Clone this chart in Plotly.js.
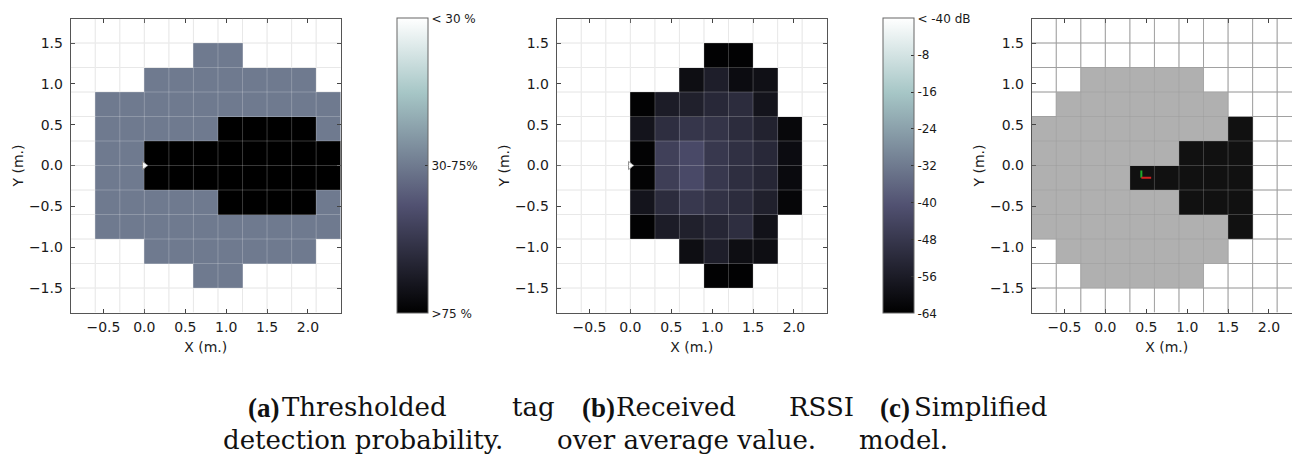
<!DOCTYPE html>
<html>
<head>
<meta charset="utf-8">
<script src="https://cdn.plot.ly/plotly-3.0.1.min.js"></script>
<style>
  html, body { margin: 0; padding: 0; overflow: hidden; background: #fff; }
  #chart { width: 1320px; height: 461px; }
</style>
</head>
<body>
<div id="chart"></div>
<script>
// ---------------- DATA ----------------
// cell centres (m); cells are 0.3 m wide
const xCenters = [-0.75, -0.45, -0.15, 0.15, 0.45, 0.75, 1.05, 1.35, 1.65, 1.95, 2.25];
const yCentersTopDown = [1.35, 1.05, 0.75, 0.45, 0.15, -0.15, -0.45, -0.75, -1.05, -1.35];

// (a) thresholded detection probability band: 0 = ">75 %", 1 = "30-75%", 2 = "< 30 %"
const n = null;
const detectionBand = [
  [n, n, n, n, n, 1, 1, n, n, n, n],
  [n, n, n, 1, 1, 1, 1, 1, 1, 1, n],
  [n, 1, 1, 1, 1, 1, 1, 1, 1, 1, 1],
  [n, 1, 1, 1, 1, 1, 0, 0, 0, 0, 1],
  [n, 1, 1, 0, 0, 0, 0, 0, 0, 0, 0],
  [n, 1, 1, 0, 0, 0, 0, 0, 0, 0, 0],
  [n, 1, 1, 1, 1, 1, 0, 0, 0, 0, 1],
  [n, 1, 1, 1, 1, 1, 1, 1, 1, 1, 1],
  [n, n, n, 1, 1, 1, 1, 1, 1, 1, n],
  [n, n, n, n, n, 1, 1, n, n, n, n]
];
const detectionTickVals = [2, 1, 0];
const detectionTickText = ['< 30 %', '30-75%', '>75 %'];

// (b) received RSSI over average value (dB)
const rssiDb = [
  [n, n, n, n, n, n, -63.4, -63.4, n, n, n],
  [n, n, n, n, n, -60.0, -55.4, -60.5, -59.4, n, n],
  [n, n, n, -63.4, -55.9, -54.8, -52.5, -51.4, -58.3, n, n],
  [n, n, n, -58.3, -50.8, -48.5, -49.1, -51.4, -54.3, -61.7, n],
  [n, n, n, -63.1, -45.6, -42.8, -47.9, -50.2, -52.5, -60.5, n],
  [n, n, n, -63.1, -46.2, -42.8, -47.9, -50.8, -53.1, -61.1, n],
  [n, n, n, -58.3, -51.4, -47.9, -49.7, -51.4, -54.8, -62.3, n],
  [n, n, n, -63.4, -55.9, -54.8, -53.1, -50.8, -58.8, n, n],
  [n, n, n, n, n, -60.0, -55.4, -60.0, -60.0, n, n],
  [n, n, n, n, n, n, -63.4, -63.4, n, n, n]
];
const rssiTickVals = [0, -8, -16, -24, -32, -40, -48, -56, -64];
const rssiTickText = ['< -40 dB', '-8', '-16', '-24', '-32', '-40', '-48', '-56', '-64'];

// (c) simplified model: 1 = detection zone, 2 = high detection zone
const modelZone = [
  [n, n, n, n, n, n, n, n, n, n, n],
  [n, n, 1, 1, 1, 1, 1, n, n, n, n],
  [n, 1, 1, 1, 1, 1, 1, 1, n, n, n],
  [1, 1, 1, 1, 1, 1, 1, 1, 2, n, n],
  [1, 1, 1, 1, 1, 1, 2, 2, 2, n, n],
  [1, 1, 1, 1, 2, 2, 2, 2, 2, n, n],
  [1, 1, 1, 1, 1, 1, 2, 2, 2, n, n],
  [1, 1, 1, 1, 1, 1, 1, 1, 2, n, n],
  [n, 1, 1, 1, 1, 1, 1, 1, n, n, n],
  [n, n, 1, 1, 1, 1, 1, n, n, n, n]
];

// antenna position (a), (b) and robot pose frame (c)
const antennaX = [0];
const antennaY = [0];
const poseX = [0.44];
const poseY = [-0.15];
const poseAxisLenX = 0.12;
const poseAxisLenY = 0.09;

// caption text
const captionLabels = ['(a)', '(b)', '(c)'];
const captionLine1 = [['Thresholded', 'tag'], ['Received', 'RSSI'], ['Simplified']];
const captionLine2 = ['detection probability.', 'over average value.', 'model.'];

// ---------------- LAYOUT CONSTANTS ----------------
const W = 1320, H = 461;
const X_RANGE = [-0.9, 2.4];
const Y_RANGE = [-1.8, 1.8];
const GRID_STEP = 0.3;
const BONE = [[0, 'rgb(0,0,0)'], [0.365079, 'rgb(81,81,113)'], [0.746032, 'rgb(166,198,198)'], [1, 'rgb(255,255,255)']];
const FONT = 'DejaVu Sans';
const SERIF = 'DejaVu Serif';
const SERIF_BOLD = 'Liberation Serif';

const yCenters = yCentersTopDown.slice().reverse();
const rev = m => m.slice().reverse();

const px = v => v / W;
const py = v => 1 - v / H;

const plotTop = 18.5, plotBottom = 312.5;
const yDomain = [py(plotBottom), py(plotTop)];
const panelsLeft = [70.7, 556.7, 1031.7];
const panelWidth = 270;

function xAxis(i) {
  return {
    domain: [px(panelsLeft[i]), px(panelsLeft[i] + panelWidth)],
    anchor: i === 0 ? 'y' : 'y' + (i + 1),
    range: X_RANGE, dtick: 0.5, tick0: 0, tickformat: '.1f',
    ticks: 'inside', ticklen: 4, tickcolor: '#444', tickwidth: 1,
    showline: true, linecolor: '#555', linewidth: 1, mirror: 'ticks',
    showgrid: false, zeroline: false, fixedrange: true,
    ticklabelstandoff: 2,
    tickfont: {family: FONT, size: 14, color: '#1a1a1a'},
    title: {text: 'X (m.)', font: {family: FONT, size: 14, color: '#1a1a1a'}, standoff: 7}
  };
}
function yAxis(i) {
  return {
    domain: yDomain,
    anchor: i === 0 ? 'x' : 'x' + (i + 1),
    range: Y_RANGE, dtick: 0.5, tick0: 0, tickformat: '.1f',
    ticks: 'inside', ticklen: 4, tickcolor: '#444', tickwidth: 1,
    showline: true, linecolor: '#555', linewidth: 1, mirror: 'ticks',
    showgrid: false, zeroline: false, fixedrange: true,
    ticklabelstandoff: 4,
    tickfont: {family: FONT, size: 14, color: '#1a1a1a'},
    title: {text: 'Y (m.)', font: {family: FONT, size: 14, color: '#1a1a1a'}, standoff: 2}
  };
}

// cell grid lines: light ones under the cells, translucent ones over them
function gridShapes(i, baseColor, overColor) {
  const xr = i === 0 ? 'x' : 'x' + (i + 1);
  const yr = i === 0 ? 'y' : 'y' + (i + 1);
  const out = [];
  const eps = 1e-6;
  const add = (x0, x1, y0, y1) => {
    out.push({type: 'line', xref: xr, yref: yr, x0, x1, y0, y1, layer: 'below', line: {color: baseColor, width: 1}});
    out.push({type: 'line', xref: xr, yref: yr, x0, x1, y0, y1, layer: 'above', line: {color: overColor, width: 1}});
  };
  for (let k = Math.ceil(X_RANGE[0] / GRID_STEP); k * GRID_STEP < X_RANGE[1] - eps; k++) {
    const v = +(k * GRID_STEP).toFixed(6);
    if (v <= X_RANGE[0] + eps) continue;
    add(v, v, Y_RANGE[0], Y_RANGE[1]);
  }
  for (let k = Math.ceil(Y_RANGE[0] / GRID_STEP); k * GRID_STEP < Y_RANGE[1] - eps; k++) {
    const v = +(k * GRID_STEP).toFixed(6);
    if (v <= Y_RANGE[0] + eps) continue;
    add(X_RANGE[0], X_RANGE[1], v, v);
  }
  return out;
}

function colorbar(leftPx, tickvals, ticktext) {
  return {
    x: px(leftPx), xanchor: 'left', xpad: 0,
    y: py(18.3), yanchor: 'top', ypad: 0,
    len: 295 / H, lenmode: 'fraction',
    thickness: 31, thicknessmode: 'pixels',
    outlinewidth: 1, outlinecolor: '#666', borderwidth: 0,
    tickmode: 'array', tickvals, ticktext,
    ticks: 'inside', ticklen: 3, tickcolor: '#333',
    tickfont: {family: FONT, size: 12, color: '#1a1a1a'}
  };
}

const traces = [
  {
    type: 'heatmap', x: xCenters, y: yCenters, z: rev(detectionBand),
    xaxis: 'x', yaxis: 'y', colorscale: BONE, zmin: 0, zmax: 2,
    hoverongaps: false, colorbar: colorbar(396.7, detectionTickVals, detectionTickText)
  },
  {
    type: 'heatmap', x: xCenters, y: yCenters, z: rev(rssiDb),
    xaxis: 'x2', yaxis: 'y2', colorscale: BONE, zmin: -64, zmax: 0,
    hoverongaps: false, colorbar: colorbar(882.7, rssiTickVals, rssiTickText)
  },
  {
    type: 'heatmap', x: xCenters, y: yCenters, z: rev(modelZone),
    xaxis: 'x3', yaxis: 'y3', colorscale: [[0, '#b0b0b0'], [1, '#111111']], zmin: 1, zmax: 2,
    hoverongaps: false, showscale: false
  },
  {
    type: 'scatter', mode: 'markers', x: antennaX, y: antennaY, xaxis: 'x', yaxis: 'y',
    marker: {symbol: 'triangle-right', size: 7, color: '#ffffff', line: {color: '#888', width: 1}},
    showlegend: false, hoverinfo: 'skip'
  },
  {
    type: 'scatter', mode: 'markers', x: antennaX, y: antennaY, xaxis: 'x2', yaxis: 'y2',
    marker: {symbol: 'triangle-right', size: 7, color: '#ffffff', line: {color: '#888', width: 1}},
    showlegend: false, hoverinfo: 'skip'
  },
  {
    type: 'scatter', mode: 'lines', xaxis: 'x3', yaxis: 'y3',
    x: [poseX[0], poseX[0]], y: [poseY[0], poseY[0] + poseAxisLenY],
    line: {color: '#1faa2a', width: 2}, showlegend: false, hoverinfo: 'skip'
  },
  {
    type: 'scatter', mode: 'lines', xaxis: 'x3', yaxis: 'y3',
    x: [poseX[0], poseX[0] + poseAxisLenX], y: [poseY[0], poseY[0]],
    line: {color: '#d42020', width: 2}, showlegend: false, hoverinfo: 'skip'
  }
];

// caption placement (justified LaTeX sub-captions), left edges in px
const labelLeft = [246, 580, 878];
const line1Left = [[280, 510], [614, 787], [912]];
const line2Left = [221, 555, 857];
const lineCenters = [407, 440];

const annotations = [];
const ann = (text, xPx, yPx, family, size) => annotations.push({
  text, xref: 'paper', yref: 'paper', x: px(xPx), y: py(yPx),
  xanchor: 'left', yanchor: 'middle', showarrow: false,
  font: {family, size, color: '#111'}
});
captionLabels.forEach((lab, i) => {
  ann('<b>' + lab + '</b>', labelLeft[i], lineCenters[0] + 1, SERIF_BOLD, 27);
  captionLine1[i].forEach((w, j) => ann(w, line1Left[i][j], lineCenters[0], SERIF, 26));
  ann(captionLine2[i], line2Left[i], lineCenters[1], SERIF, 26);
});

const layout = {
  width: W, height: H,
  margin: {l: 0, r: 0, t: 0, b: 0},
  paper_bgcolor: '#ffffff', plot_bgcolor: '#ffffff',
  showlegend: false,
  xaxis: xAxis(0), yaxis: yAxis(0),
  xaxis2: xAxis(1), yaxis2: yAxis(1),
  xaxis3: xAxis(2), yaxis3: yAxis(2),
  shapes: [].concat(
    gridShapes(0, '#e2e2e2', 'rgba(255,255,255,0.22)'),
    gridShapes(1, '#e2e2e2', 'rgba(255,255,255,0.22)'),
    gridShapes(2, '#a8a8a8', 'rgba(150,150,150,0.35)')
  ),
  annotations
};

Plotly.newPlot('chart', traces, layout, {staticPlot: true, displayModeBar: false});
</script>
</body>
</html>
